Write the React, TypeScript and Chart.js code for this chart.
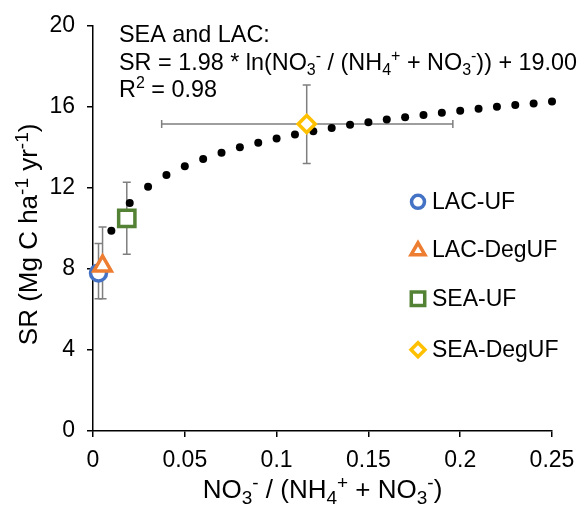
import React, { useEffect, useRef } from 'react';
import { Chart, registerables } from 'chart.js';

Chart.register(...registerables);

const FONT = '"Liberation Sans", Arial, sans-serif';

// trend line (logarithmic fit) dots
const trendX = [0.01, 0.02, 0.03, 0.04, 0.05, 0.06, 0.07, 0.08, 0.09, 0.1, 0.11, 0.12, 0.13, 0.14, 0.15, 0.16, 0.17, 0.18, 0.19, 0.2, 0.21, 0.22, 0.23, 0.24, 0.25];
const trendY = [9.88, 11.25, 12.06, 12.63, 13.07, 13.43, 13.73, 14.0, 14.23, 14.44, 14.63, 14.8, 14.96, 15.11, 15.24, 15.37, 15.49, 15.6, 15.71, 15.81, 15.91, 16.0, 16.09, 16.17, 16.26];

const seriesNames = ['LAC-UF', 'LAC-DegUF', 'SEA-UF', 'SEA-DegUF'];
const seriesX = [0.003, 0.0052, 0.0184, 0.1164];
const seriesY = [7.8, 8.15, 10.5, 15.15];
const errYPlus = [1.45, 1.92, 1.78, 1.93];
const errYMinus = [1.27, 1.62, 1.77, 1.95];
const errXPlus = [0, 0, 0, 0.0796];
const errXMinus = [0, 0, 0, 0.079];
const seriesColors = ['#4472C4', '#ED7D31', '#548235', '#FFC000'];
const seriesStyles = ['circle', 'triangle', 'rect', 'rectRot'];
const seriesRadius = [8, 10, 11.5, 8.5];

const xTicks = [0, 0.05, 0.1, 0.15, 0.2, 0.25];
const yTicks = [0, 4, 8, 12, 16, 20];

type Seg = [string, number];

const eqLine1: Seg[] = [['SEA and LAC:', 0]];
const eqLine2: Seg[] = [['SR = 1.98 * ln(NO', 0], ['3', -1], ['-', 1], [' / (NH', 0], ['4', -1], ['+', 1], [' + NO', 0], ['3', -1], ['-', 1], [')) + 19.00', 0]];
const eqLine3: Seg[] = [['R', 0], ['2', 1], [' = 0.98', 0]];
const xTitle: Seg[] = [['NO', 0], ['3', -1], ['-', 1], [' / (NH', 0], ['4', -1], ['+', 1], [' + NO', 0], ['3', -1], ['-', 1], [')', 0]];
const yTitle: Seg[] = [['SR (Mg C ha', 0], ['-1', 1], [' yr', 0], ['-1', 1], [')', 0]];

function drawRich(ctx: CanvasRenderingContext2D, segs: Seg[], x: number, y: number, size: number, align: 'left' | 'center', ratio = 0.68) {
  const small = Math.round(size * ratio);
  let total = 0;
  const parts = segs.map(([t, m]) => {
    ctx.font = `${m ? small : size}px ${FONT}`;
    const w = ctx.measureText(t).width;
    total += w;
    return { t, m, w };
  });
  let cx = align === 'center' ? x - total / 2 : x;
  ctx.textAlign = 'left';
  ctx.textBaseline = 'alphabetic';
  ctx.fillStyle = '#000';
  for (const p of parts) {
    ctx.font = `${p.m ? small : size}px ${FONT}`;
    const dy = p.m === 1 ? -size * 0.36 : p.m === -1 ? size * 0.22 : 0;
    ctx.fillText(p.t, cx, y + dy);
    cx += p.w;
  }
}

function drawMarker(ctx: CanvasRenderingContext2D, style: string, x: number, y: number, r: number, color: string) {
  ctx.save();
  ctx.strokeStyle = color;
  ctx.fillStyle = '#fff';
  ctx.lineWidth = 3.5;
  ctx.beginPath();
  if (style === 'circle') {
    ctx.arc(x, y, r, 0, Math.PI * 2);
  } else if (style === 'triangle') {
    const h = r * 1.5;
    const side = r * Math.sqrt(3);
    const top = y - h / 2 - 1;
    ctx.moveTo(x, top);
    ctx.lineTo(x + side / 2, top + h);
    ctx.lineTo(x - side / 2, top + h);
    ctx.closePath();
  } else if (style === 'rect') {
    const s = r * Math.SQRT2;
    ctx.rect(x - s / 2, y - s / 2, s, s);
  } else {
    ctx.moveTo(x, y - r);
    ctx.lineTo(x + r, y);
    ctx.lineTo(x, y + r);
    ctx.lineTo(x - r, y);
    ctx.closePath();
  }
  ctx.fill();
  ctx.stroke();
  ctx.restore();
}

const overlayPlugin = {
  id: 'overlay',
  beforeDatasetsDraw(chart: any) {
    const ctx = chart.ctx as CanvasRenderingContext2D;
    const xs = chart.scales.x;
    const ys = chart.scales.y;
    ctx.save();
    ctx.strokeStyle = '#7F7F7F';
    ctx.lineWidth = 1.5;
    const cap = 4;
    for (let i = 0; i < seriesX.length; i++) {
      const px = xs.getPixelForValue(seriesX[i]);
      const py = ys.getPixelForValue(seriesY[i]);
      const top = ys.getPixelForValue(seriesY[i] + errYPlus[i]);
      const bot = ys.getPixelForValue(seriesY[i] - errYMinus[i]);
      ctx.beginPath();
      ctx.moveTo(px, top); ctx.lineTo(px, bot);
      ctx.moveTo(px - cap, top); ctx.lineTo(px + cap, top);
      ctx.moveTo(px - cap, bot); ctx.lineTo(px + cap, bot);
      if (errXPlus[i] > 0 || errXMinus[i] > 0) {
        const l = xs.getPixelForValue(seriesX[i] - errXMinus[i]);
        const r = xs.getPixelForValue(seriesX[i] + errXPlus[i]);
        ctx.moveTo(l, py); ctx.lineTo(r, py);
        ctx.moveTo(l, py - cap); ctx.lineTo(l, py + cap);
        ctx.moveTo(r, py - cap); ctx.lineTo(r, py + cap);
      }
      ctx.stroke();
    }
    ctx.restore();
  },
  afterDraw(chart: any) {
    const ctx = chart.ctx as CanvasRenderingContext2D;
    const a = chart.chartArea;
    ctx.save();
    // equation annotation
    drawRich(ctx, eqLine1, a.left + 26, a.top + 16, 23.4, 'left');
    drawRich(ctx, eqLine2, a.left + 26, a.top + 44, 23.4, 'left');
    drawRich(ctx, eqLine3, a.left + 26, a.top + 71, 23.4, 'left');
    // axis titles
    drawRich(ctx, xTitle, (a.left + a.right) / 2, a.bottom + 67, 26, 'center', 0.72);
    ctx.save();
    ctx.translate(37, (a.top + a.bottom) / 2 + 6);
    ctx.rotate(-Math.PI / 2);
    drawRich(ctx, yTitle, 0, 0, 26, 'center', 0.72);
    ctx.restore();
    // legend
    const lx = a.left + 325;
    const rows = [a.top + 176, a.top + 224, a.top + 273, a.top + 324];
    for (let i = 0; i < seriesNames.length; i++) {
      drawMarker(ctx, seriesStyles[i], lx, rows[i], [6.5, 8, 9.5, 7][i], seriesColors[i]);
      ctx.font = `23px ${FONT}`;
      ctx.fillStyle = '#000';
      ctx.textAlign = 'left';
      ctx.textBaseline = 'middle';
      ctx.fillText(seriesNames[i], lx + 14, rows[i] + 1);
    }
    ctx.restore();
  },
};

export default function App() {
  const ref = useRef<HTMLCanvasElement | null>(null);
  useEffect(() => {
    if (!ref.current) return;
    document.body.style.margin = '0';
    document.body.style.overflow = 'hidden';
    const datasets: any[] = seriesNames.map((name, i) => ({
      label: name,
      data: [{ x: seriesX[i], y: seriesY[i] }],
      pointStyle: seriesStyles[i],
      pointRadius: seriesRadius[i],
      pointBorderWidth: 3.5,
      pointBorderColor: seriesColors[i],
      pointBackgroundColor: '#fff',
      showLine: false,
      clip: false,
      order: 4 - i,
    }));
    datasets.push({
      label: 'trend',
      data: trendX.map((x, i) => ({ x, y: trendY[i] })),
      pointStyle: 'circle',
      pointRadius: 4,
      pointBorderWidth: 0,
      pointBackgroundColor: '#000',
      showLine: false,
      clip: false,
      order: 10,
    });
    const tickFont = { family: FONT, size: 23 };
    const chart = new Chart(ref.current, {
      type: 'scatter',
      data: { datasets },
      plugins: [overlayPlugin],
      options: {
        responsive: false,
        animation: false,
        layout: { padding: { top: 24, right: 35, left: 0, bottom: 0 } },
        plugins: { legend: { display: false }, tooltip: { enabled: false } },
        scales: {
          x: {
            type: 'linear',
            min: 0,
            max: 0.25,
            afterBuildTicks: (s: any) => { s.ticks = xTicks.map((v) => ({ value: v })); },
            afterFit: (s: any) => { s.height = 75; },
            ticks: { font: tickFont, color: '#000', padding: 10, maxRotation: 0, autoSkip: false, callback: (v: any) => String(v) },
            grid: { drawOnChartArea: false, drawTicks: true, tickLength: 6, color: '#000', lineWidth: 1.5 },
            border: { color: '#000', width: 1.5 },
          },
          y: {
            type: 'linear',
            min: 0,
            max: 20,
            afterBuildTicks: (s: any) => { s.ticks = yTicks.map((v) => ({ value: v })); },
            afterFit: (s: any) => { s.width = 93; },
            ticks: { font: tickFont, color: '#000', padding: 12, autoSkip: false, callback: (v: any) => String(v) },
            grid: { drawOnChartArea: false, drawTicks: true, tickLength: 6, color: '#000', lineWidth: 1.5 },
            border: { color: '#000', width: 1.5 },
          },
        },
      } as any,
    });
    return () => chart.destroy();
  }, []);
  return (
    <div style={{ width: 587, height: 506 }}>
      <canvas ref={ref} width={587} height={506} style={{ display: 'block' }} />
    </div>
  );
}
